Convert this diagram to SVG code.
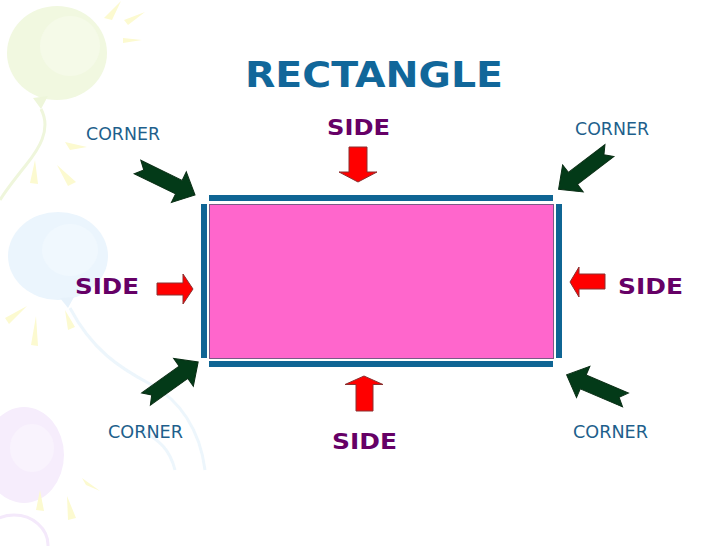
<svg xmlns="http://www.w3.org/2000/svg" width="728" height="546" viewBox="0 0 728 546">
<style>
.title{font-family:"DejaVu Sans",Verdana,sans-serif;font-weight:bold;font-size:36px;fill:#11679a}
.side{font-family:"DejaVu Sans",Verdana,sans-serif;font-weight:bold;font-size:22px;fill:#660066}
.corner{font-family:"DejaVu Sans",Verdana,sans-serif;font-size:17px;fill:#1e5f8c}
.bar{fill:#0f6594}
.green{fill:#033a18;stroke:#0a2e15;stroke-width:1}
.red{fill:#ff0000;stroke:#8b3030;stroke-width:1}
.ray{fill:#fcfad0}
</style>
<defs>
<path id="notched" d="M0,-7.5 H46 V-17 L64,0 L46,17 V7.5 H0 L7,0 Z"/>
</defs>
<rect width="728" height="546" fill="#ffffff"/>
<g id="background">
<ellipse cx="57" cy="53" rx="50" ry="47" fill="#f1f8e0"/>
<ellipse cx="70" cy="46" rx="30" ry="30" fill="#f5fae8"/>
<path d="M33,98 L48,96 L41,109 Z" fill="#eef6da"/>
<path d="M41,109 C52,130 38,150 26,165 S6,190 0,200" fill="none" stroke="#eff6dc" stroke-width="3"/>
<ellipse cx="58" cy="256" rx="50" ry="44" fill="#ebf5fd"/>
<ellipse cx="70" cy="250" rx="28" ry="26" fill="#f0f8fe"/>
<path d="M60,298 L74,297 L68,308 Z" fill="#e7f2fb"/>
<path d="M70,308 C92,350 120,368 150,384 C180,400 200,430 205,470" fill="none" stroke="#edf6fc" stroke-width="3"/>
<path d="M140,430 C160,440 170,450 175,470" fill="none" stroke="#edf6fc" stroke-width="3"/>
<ellipse cx="24" cy="455" rx="40" ry="48" fill="#f6edfc"/>
<ellipse cx="32" cy="448" rx="22" ry="24" fill="#f9f3fd"/>
<ellipse cx="14" cy="545" rx="34" ry="30" fill="none" stroke="#f4e9fb" stroke-width="3"/>
<path class="ray" d="M104,18 L112,20 L121,1 Z"/>
<path class="ray" d="M124,20 L128,25 L145,12 Z"/>
<path class="ray" d="M123,38 L123,43 L142,40 Z"/>
<path class="ray" d="M65,142 L70,150 L87,147 Z"/>
<path class="ray" d="M30,183 L38,184 L35,160 Z"/>
<path class="ray" d="M68,186 L76,182 L57,165 Z"/>
<path class="ray" d="M5,318 L9,324 L27,306 Z"/>
<path class="ray" d="M31,345 L38,346 L36,316 Z"/>
<path class="ray" d="M68,330 L75,327 L65,310 Z"/>
<path class="ray" d="M82,478 L86,485 L100,491 Z"/>
<path class="ray" d="M36,510 L44,511 L40,490 Z"/>
<path class="ray" d="M68,520 L76,518 L67,496 Z"/>
</g>
<g id="title"><text class="title" x="245" y="87" textLength="258" lengthAdjust="spacingAndGlyphs">RECTANGLE</text></g>
<g id="rectangle">
<rect x="209.5" y="204.5" width="344" height="154" fill="#ff66cc" stroke="#7a5a86" stroke-width="1"/>
<rect class="bar" x="209" y="195" width="344" height="6"/>
<rect class="bar" x="209" y="361" width="344" height="6"/>
<rect class="bar" x="201" y="204" width="6" height="154"/>
<rect class="bar" x="556" y="204" width="6" height="154"/>
</g>
<g id="label-side-top"><text class="side" x="327" y="135" textLength="63" lengthAdjust="spacingAndGlyphs">SIDE</text></g>
<g id="label-side-left"><text class="side" x="75" y="294" textLength="64" lengthAdjust="spacingAndGlyphs">SIDE</text></g>
<g id="label-side-right"><text class="side" x="618" y="294" textLength="65" lengthAdjust="spacingAndGlyphs">SIDE</text></g>
<g id="label-side-bottom"><text class="side" x="332" y="449" textLength="65" lengthAdjust="spacingAndGlyphs">SIDE</text></g>
<g id="label-corner-tl"><text class="corner" x="86" y="140" textLength="74" lengthAdjust="spacingAndGlyphs">CORNER</text></g>
<g id="label-corner-tr"><text class="corner" x="575" y="135" textLength="74" lengthAdjust="spacingAndGlyphs">CORNER</text></g>
<g id="label-corner-bl"><text class="corner" x="108" y="438" textLength="75" lengthAdjust="spacingAndGlyphs">CORNER</text></g>
<g id="label-corner-br"><text class="corner" x="573" y="438" textLength="75" lengthAdjust="spacingAndGlyphs">CORNER</text></g>
<g id="connectors">
<use href="#notched" class="green" transform="translate(137.5,167) rotate(26)"/>
<use href="#notched" class="green" transform="translate(609.5,150.5) rotate(142.7)"/>
<use href="#notched" class="green" transform="translate(146,399) rotate(-35.4)"/>
<use href="#notched" class="green" transform="translate(625.5,400) rotate(203.1)"/>
<path class="red" d="M349,147 H367 V172 H377 L358,182 L339,172 H349 Z"/>
<path class="red" d="M356,411 H373 V384.5 H383 L364,376 L345,384.5 H356 Z"/>
<path class="red" d="M157,283 H183 V274 L193,289 L183,304 V295 H157 Z"/>
<path class="red" d="M605,274 H579 V267 L570,282 L579,297 V289 H605 Z"/>
</g>
</svg>
